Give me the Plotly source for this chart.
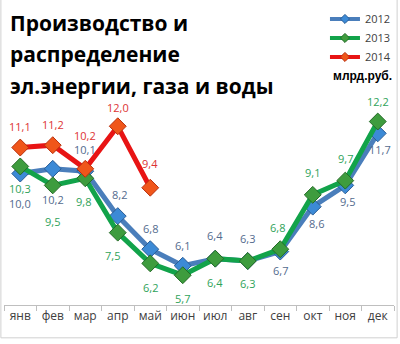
import plotly.graph_objects as go

months = ["янв", "фев", "мар", "апр", "май", "июн", "июл", "авг", "сен", "окт", "ноя", "дек"]
v2012 = [10.0, 10.2, 10.1, 8.2, 6.8, 6.1, 6.4, 6.3, 6.7, 8.6, 9.5, 11.7]
v2013 = [10.3, 9.5, 9.8, 7.5, 6.2, 5.7, 6.4, 6.3, 6.8, 9.1, 9.7, 12.2]
v2014 = [11.1, 11.2, 10.2, 12.0, 9.4]

# vertical label offsets in px (positive = above the marker)
off2012 = [-30, -31, 22, 22, 21, 20, 23, 23, -19, -17, -16, -16]
off2013 = [-22, -36, -23, -23, -24, -23, -24, -22, 22, 22, 22, 20]
off2014 = [21, 21, 33, 19, 24]
# horizontal label nudges in px
dx2012 = [0, 0, 0, 2, 0, 0, 0, 0, 0, 4, 2, 2]
dx2013 = [0, 0, -2, -5, 0, 0, 0, 0, -3, 0, 0, 0]
dx2014 = [0, 0, 0, 0, 0]

series = [
    ("2012", v2012, off2012, dx2012, "#4a7ebb", "#3c8ad6", "#2a5d96", "#536b8e"),
    ("2013", v2013, off2013, dx2013, "#12a34a", "#3e9c3e", "#256b27", "#2fa35a"),
    ("2014", v2014, off2014, dx2014, "#e81414", "#f0561a", "#b8300e", "#dd3333"),
]

fig = go.Figure()
annotations = []
for name, vals, offs, dxs, lc, mfill, mline, tc in series:
    fig.add_trace(go.Scatter(
        x=months[:len(vals)], y=vals, name=name, mode="lines+markers",
        line=dict(color=lc, width=5), showlegend=False,
        marker=dict(symbol="diamond", size=13, color=mfill,
                    line=dict(color=mline, width=1)),
    ))
    # compact legend entry
    fig.add_trace(go.Scatter(
        x=[None], y=[None], name=name, mode="lines+markers",
        line=dict(color=lc, width=4),
        marker=dict(symbol="diamond", size=7, color=mfill,
                    line=dict(color=mline, width=1)),
    ))
    for m, v, o, d in zip(months, vals, offs, dxs):
        annotations.append(dict(
            x=m, y=v, xref="x", yref="y", showarrow=False,
            text=f"{v:.1f}".replace(".", ","),
            yshift=o, xshift=d, font=dict(family="Open Sans", size=11, color=tc),
        ))

# title lines and unit label
title_lines = ["Производство и", "распределение", "эл.энергии, газа и воды"]
title_y = [0.9965, 0.8877, 0.7754]
for line, yy in zip(title_lines, title_y):
    annotations.append(dict(
        xref="paper", yref="paper", x=0.01, y=yy, xanchor="left", yanchor="middle",
        showarrow=False, text=f"<b>{line}</b>",
        font=dict(family="Open Sans", size=21, color="#000000"),
    ))
annotations.append(dict(
    xref="paper", yref="paper", x=1.0, y=0.81, xanchor="right", yanchor="middle",
    showarrow=False, text="<b>млрд.руб.</b>",
    font=dict(family="Liberation Sans Narrow, Liberation Sans", size=12, color="#000000"),
))

fig.update_layout(
    width=400, height=344,
    margin=dict(l=4, r=6, t=20, b=39),
    paper_bgcolor="white", plot_bgcolor="white",
    showlegend=True,
    legend=dict(x=0.823, xanchor="left", y=1.062, yanchor="top",
                font=dict(family="Open Sans", size=11, color="#404040"),
                bgcolor="rgba(0,0,0,0)", tracegroupgap=0,
                itemwidth=30),
    annotations=annotations,
    xaxis=dict(type="category", categoryorder="array", categoryarray=months,
               range=[-0.5, 11.5], showgrid=False, showline=True,
               linecolor="#bfbfbf", linewidth=1, ticks="outside",
               tickson="boundaries", ticklen=5, tickcolor="#bfbfbf",
               tickangle=0,
               tickfont=dict(family="Open Sans", size=12, color="#404040")),
    yaxis=dict(range=[4.44, 16.41], visible=False, showgrid=False),
    shapes=[dict(type="rect", xref="paper", yref="paper",
                 x0=-0.008, x1=1.008, y0=-0.116, y1=1.2,
                 line=dict(color="#d0d0d0", width=1))],
)

fig.write_html("out.html")
